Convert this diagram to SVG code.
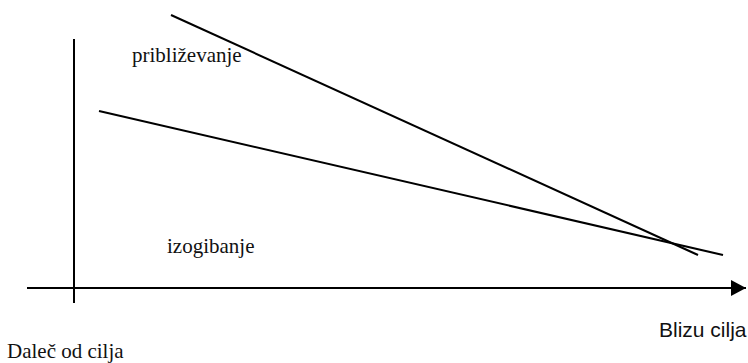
<svg xmlns="http://www.w3.org/2000/svg" width="748" height="363" viewBox="0 0 748 363">
<style>
.ln{stroke:#000;stroke-width:2;fill:none}
.serif{font-family:"Liberation Serif","Times New Roman",serif;font-size:21px;fill:#111}
.sans{font-family:"Liberation Sans",Arial,sans-serif;font-size:21px;fill:#111}
</style>
<defs>
<marker id="arr" markerUnits="userSpaceOnUse" markerWidth="16" markerHeight="16" refX="15" refY="8" orient="auto">
<path d="M0,0 L15,8 L0,16 Z" fill="#000"/>
</marker>
</defs>
<g id="connectors">
<line class="ln" x1="74" y1="39" x2="74" y2="303"/>
<line class="ln" x1="27" y1="288" x2="746" y2="288" marker-end="url(#arr)"/>
<line class="ln" x1="171" y1="15" x2="698" y2="255"/>
<line class="ln" x1="99" y1="111" x2="723" y2="255"/>
</g>
<g id="label-priblizevanje"><text class="serif" x="132" y="62">približevanje</text></g>
<g id="label-izogibanje"><text class="serif" x="167" y="253">izogibanje</text></g>
<g id="label-blizu"><text class="sans" x="659" y="337">Blizu cilja</text></g>
<g id="label-dalec"><text class="serif" x="7" y="358">Daleč od cilja</text></g>
</svg>
